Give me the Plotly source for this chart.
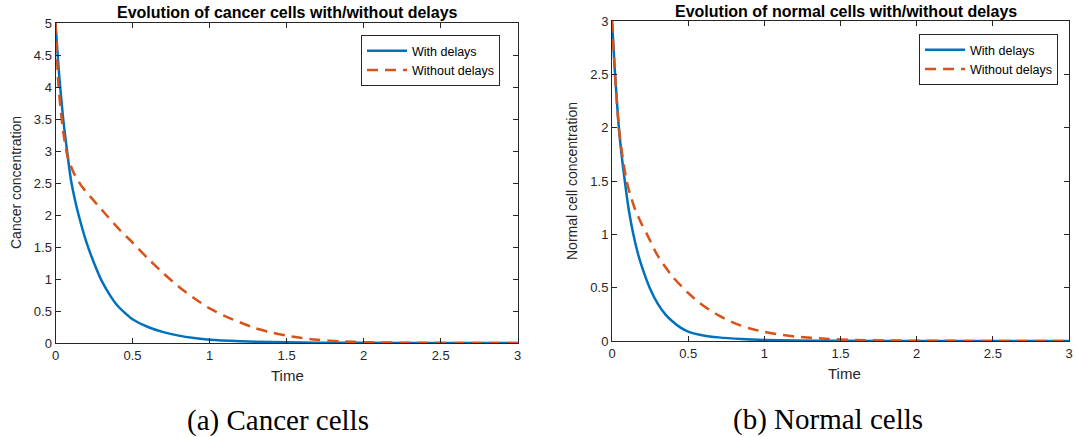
import plotly.graph_objects as go

# ---------------- data ----------------
time_cancer_delay = [0, 0.025, 0.05, 0.075, 0.1, 0.125, 0.15, 0.2, 0.25, 0.3, 0.35, 0.4, 0.45, 0.5,
                     0.6, 0.7, 0.8, 0.9, 1.0, 1.2, 1.4, 1.6, 1.8, 2.0, 2.5, 3.0]
cancer_delay = [5, 4.15, 3.5, 3.0, 2.55, 2.25, 2.0, 1.58, 1.25, 0.97, 0.76, 0.59, 0.47, 0.37,
                0.25, 0.17, 0.115, 0.078, 0.052, 0.028, 0.015, 0.008, 0.004, 0.002, 0.0005, 0.0001]

time_cancer_nodelay = [0, 0.02, 0.05, 0.08, 0.12, 0.17, 0.25, 0.33, 0.42, 0.5, 0.6, 0.7, 0.8, 0.9,
                       1.0, 1.1, 1.2, 1.3, 1.4, 1.5, 1.6, 1.7, 1.85, 2.0, 2.3, 2.6, 3.0]
cancer_nodelay = [5, 4.0, 3.3, 2.9, 2.65, 2.45, 2.22, 2.0, 1.76, 1.57, 1.32, 1.09, 0.88, 0.7,
                  0.54, 0.42, 0.32, 0.23, 0.165, 0.115, 0.078, 0.05, 0.027, 0.013, 0.004, 0.001, 0.0002]

time_normal_delay = [0, 0.02, 0.045, 0.065, 0.084, 0.11, 0.14, 0.17, 0.2, 0.25, 0.3, 0.35, 0.4, 0.45,
                     0.5, 0.6, 0.7, 0.85, 1.0, 1.2, 1.5, 2.0, 2.5, 3.0]
normal_delay = [3, 2.5, 2.0, 1.72, 1.5, 1.23, 1.0, 0.82, 0.68, 0.49, 0.35, 0.25, 0.18, 0.125,
                0.088, 0.052, 0.034, 0.019, 0.01, 0.005, 0.002, 0.0005, 0.0001, 0.0]

time_normal_nodelay = [0, 0.02, 0.045, 0.07, 0.096, 0.12, 0.15, 0.19, 0.23, 0.3, 0.4, 0.5, 0.6, 0.7,
                       0.8, 0.9, 1.0, 1.1, 1.2, 1.4, 1.6, 1.8, 2.0, 2.5, 3.0]
normal_nodelay = [3, 2.5, 2.0, 1.72, 1.5, 1.37, 1.24, 1.11, 1.0, 0.8, 0.6, 0.45, 0.33, 0.24,
                  0.17, 0.12, 0.085, 0.06, 0.042, 0.021, 0.01, 0.005, 0.0025, 0.0005, 0.0001]

x_ticks = [0, 0.5, 1, 1.5, 2, 2.5, 3]
y_ticks_cancer = [0, 0.5, 1, 1.5, 2, 2.5, 3, 3.5, 4, 4.5, 5]
y_ticks_normal = [0, 0.5, 1, 1.5, 2, 2.5, 3]

series_names = ["With delays", "Without delays"]
panel_titles = ["Evolution of cancer cells with/without delays",
                "Evolution of normal cells with/without delays"]
y_titles = ["Cancer concentration", "Normal cell concentration"]
x_title = "Time"
captions = ["(a) Cancer cells", "(b) Normal cells"]

# ---------------- layout helpers ----------------
W, H = 1076, 437
def fx(p):
    return p / W
def fy(p):
    return 1 - p / H

BLUE = "#0072BD"
ORANGE = "#D95319"
AX = "#262626"
SANS = "Liberation Sans, Arial, Helvetica, sans-serif"
SERIF = "Liberation Serif, Times New Roman, serif"

fig = go.Figure()

line_blue = dict(color=BLUE, width=2.5, shape="spline", smoothing=0.7)
line_orange = dict(color=ORANGE, width=2.5, dash="11px,7px", shape="spline", smoothing=0.7)

fig.add_trace(go.Scatter(x=time_cancer_delay, y=cancer_delay, mode="lines", name=series_names[0],
                         line=line_blue, xaxis="x", yaxis="y", legend="legend"))
fig.add_trace(go.Scatter(x=time_cancer_nodelay, y=cancer_nodelay, mode="lines", name=series_names[1],
                         line=line_orange, xaxis="x", yaxis="y", legend="legend"))
fig.add_trace(go.Scatter(x=time_normal_delay, y=normal_delay, mode="lines", name=series_names[0],
                         line=line_blue, xaxis="x2", yaxis="y2", legend="legend2"))
fig.add_trace(go.Scatter(x=time_normal_nodelay, y=normal_nodelay, mode="lines", name=series_names[1],
                         line=line_orange, xaxis="x2", yaxis="y2", legend="legend2"))

axis_common = dict(showline=True, linecolor=AX, linewidth=1, mirror="ticks", ticks="inside",
                   ticklen=5, tickcolor=AX, tickwidth=1, showgrid=False, zeroline=False,
                   automargin=False,
                   tickfont=dict(family=SANS, size=13, color=AX), fixedrange=True)

legend_common = dict(bgcolor="white", bordercolor=AX, borderwidth=1,
                     font=dict(family=SANS, size=12.5, color="black"),
                     xanchor="left", yanchor="top", itemwidth=40, tracegroupgap=0)

fig.update_layout(
    width=W, height=H, autosize=False,
    margin=dict(l=0, r=0, t=0, b=0, autoexpand=False),
    paper_bgcolor="white", plot_bgcolor="white",
    hovermode=False,
    xaxis=dict(domain=[fx(55.5), fx(517.7)], range=[0, 3], tickvals=x_ticks, anchor="y", **axis_common),
    yaxis=dict(domain=[fy(343), fy(23)], range=[0, 5], tickvals=y_ticks_cancer, anchor="x", **axis_common),
    xaxis2=dict(domain=[fx(612), fx(1069)], range=[0, 3], tickvals=x_ticks, anchor="y2", **axis_common),
    yaxis2=dict(domain=[fy(341), fy(21)], range=[0, 3], tickvals=y_ticks_normal, anchor="x2", **axis_common),
    legend=dict(x=fx(361), y=fy(35), **legend_common),
    legend2=dict(x=fx(919), y=fy(34), **legend_common),
    showlegend=True,
)

annotations = [
    dict(text="<b>%s</b>" % panel_titles[0], x=fx(287), y=fy(12), font=dict(family=SANS, size=16, color="black")),
    dict(text="<b>%s</b>" % panel_titles[1], x=fx(846), y=fy(11), font=dict(family=SANS, size=16, color="black")),
    dict(text=x_title, x=fx(287), y=fy(375), font=dict(family=SANS, size=15, color=AX)),
    dict(text=x_title, x=fx(844), y=fy(373), font=dict(family=SANS, size=15, color=AX)),
    dict(text=y_titles[0], x=fx(16), y=fy(183), textangle=-90, font=dict(family=SANS, size=14, color=AX)),
    dict(text=y_titles[1], x=fx(572), y=fy(181), textangle=-90, font=dict(family=SANS, size=14, color=AX)),
    dict(text=captions[0], x=fx(278), y=fy(420), font=dict(family=SERIF, size=29, color="black")),
    dict(text=captions[1], x=fx(828), y=fy(419), font=dict(family=SERIF, size=29, color="black")),
]
for a in annotations:
    a.update(xref="paper", yref="paper", xanchor="center", yanchor="middle", showarrow=False)
fig.update_layout(annotations=annotations)

# remove the browser's default page margin so the figure sits at the window's top-left corner
fig.write_html("out.html", config={"displayModeBar": False, "staticPlot": True},
               post_script="document.body.style.margin='0';document.body.style.overflow='hidden';")
